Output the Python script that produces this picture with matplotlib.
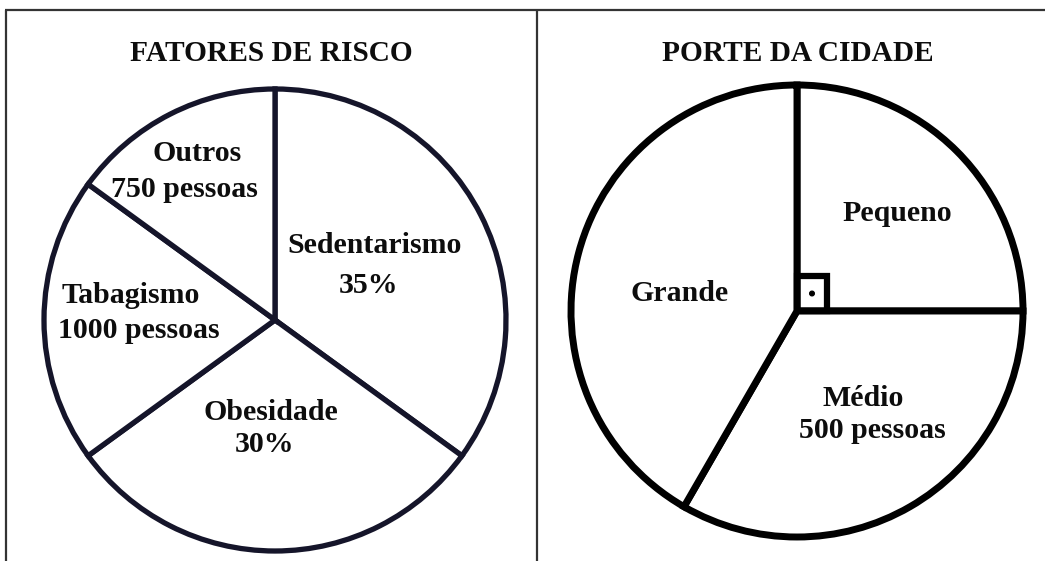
import matplotlib
matplotlib.use("Agg")
import matplotlib.pyplot as plt
from matplotlib.patches import Rectangle, Circle

# ---- data ----
risk_title = "FATORES DE RISCO"
risk_labels = ["Sedentarismo", "Obesidade", "Tabagismo", "Outros"]
risk_people = [1750, 1500, 1000, 750]          # 35%, 30%, 1000, 750 pessoas
risk_text = [["Sedentarismo", "35%"], ["Obesidade", "30%"],
             ["Tabagismo", "1000 pessoas"], ["Outros", "750 pessoas"]]

city_title = "PORTE DA CIDADE"
city_labels = ["Pequeno", "Médio", "Grande"]
city_people = [375, 500, 625]                   # 90°, 120°, 150°
city_text = [["Pequeno"], ["Médio", "500 pessoas"], ["Grande"]]

W, H = 1045, 561
fig = plt.figure(figsize=(W / 100, H / 100), dpi=100)
ax = fig.add_axes([0, 0, 1, 1])

def Y(py):
    return H - py

font = dict(family="Liberation Serif", fontweight="bold", color="#0d0d0d")

# left pie
ax.pie(risk_people, center=(275, Y(320)), radius=231, startangle=90, counterclock=False,
       colors=["white"] * len(risk_people),
       wedgeprops=dict(edgecolor="#15152a", linewidth=3.8, joinstyle="miter"))
# right pie
ax.pie(city_people, center=(797, Y(311)), radius=226, startangle=90, counterclock=False,
       colors=["white"] * len(city_people),
       wedgeprops=dict(edgecolor="black", linewidth=5.0, joinstyle="miter"))

# right-angle marker
ax.add_patch(Rectangle((797, Y(311)), 30, 35, fill=False, edgecolor="black", linewidth=4.5,
                       joinstyle="miter", zorder=5))
ax.add_patch(Circle((797 + 15, Y(311) + 17.5), 2.3, color="black", zorder=6))

# frame lines
ax.plot([5, W], [Y(10), Y(10)], color="#333333", lw=1.6, solid_capstyle="butt")
ax.plot([6, 6], [Y(10), 0], color="#333333", lw=1.6, solid_capstyle="butt")
ax.plot([537, 537], [Y(10), 0], color="#333333", lw=1.6, solid_capstyle="butt")

# titles
ax.text(271, Y(53), risk_title, fontsize=21.2, ha="center", va="center", **font)
ax.text(798, Y(53), city_title, fontsize=21.2, ha="center", va="center", **font)

# labels (one entry per line)
risk_pos = [[(375, 242), (368, 282)], [(271, 410), (265, 442)],
            [(131, 292), (139, 327)], [(197, 150), (184, 186)]]
for lines, pos in zip(risk_text, risk_pos):
    for t, (x, y) in zip(lines, pos):
        ax.text(x, Y(y), t, fontsize=21.5, ha="center", va="center_baseline", **font)

city_pos = [[(897, 210)], [(863, 395), (872, 428)], [(680, 290)]]
for lines, pos in zip(city_text, city_pos):
    for t, (x, y) in zip(lines, pos):
        ax.text(x, Y(y), t, fontsize=21.5, ha="center", va="center_baseline", **font)

ax.set_xlim(0, W)
ax.set_ylim(0, H)
ax.set_aspect("equal")
ax.axis("off")

fig.savefig("out.png", dpi=100)
